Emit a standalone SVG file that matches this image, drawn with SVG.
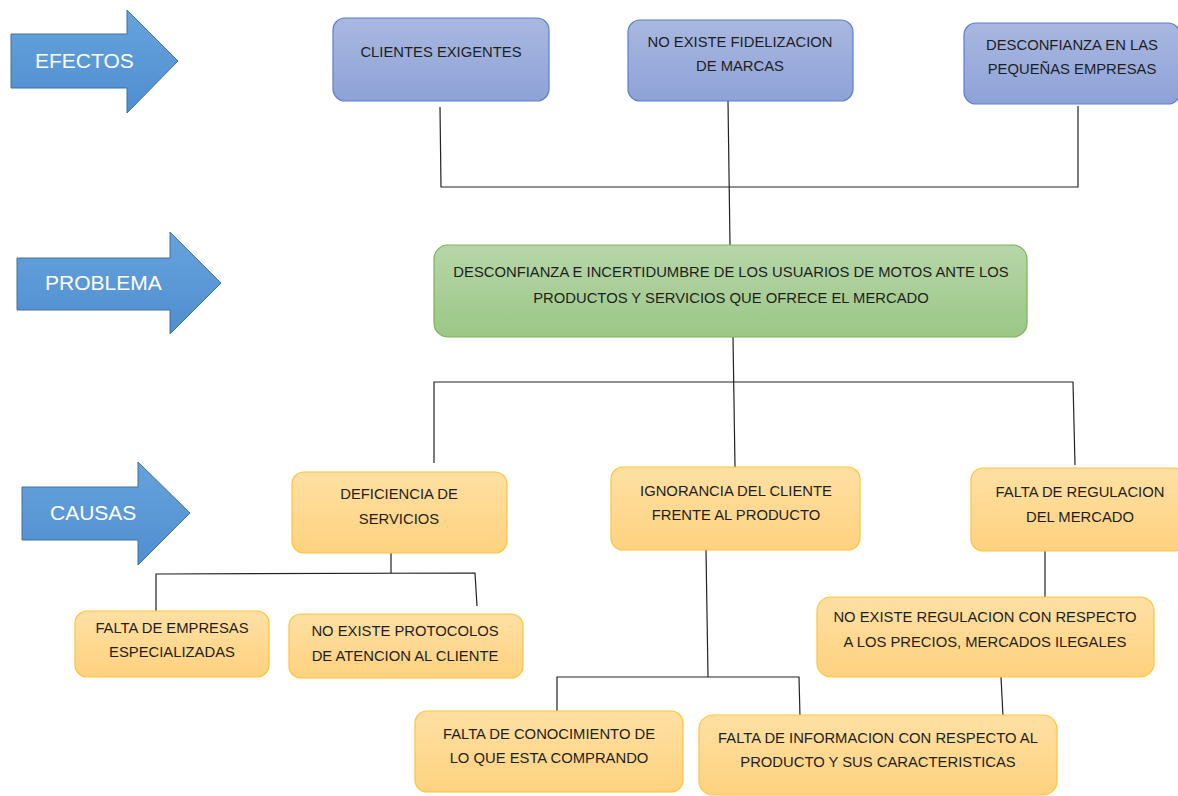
<svg xmlns="http://www.w3.org/2000/svg" width="1178" height="796" viewBox="0 0 1178 796">
<defs>
<linearGradient id="gArrow" x1="0" y1="0" x2="0" y2="1"><stop offset="0" stop-color="#66a3dc"/><stop offset="1" stop-color="#4f8ed0"/></linearGradient>
<linearGradient id="gBlue" x1="0" y1="0" x2="0" y2="1"><stop offset="0" stop-color="#aab8e0"/><stop offset="1" stop-color="#8da2d8"/></linearGradient>
<linearGradient id="gGreen" x1="0" y1="0" x2="0" y2="1"><stop offset="0" stop-color="#b6d6a8"/><stop offset="1" stop-color="#9cc786"/></linearGradient>
<linearGradient id="gOrange" x1="0" y1="0" x2="0" y2="1"><stop offset="0" stop-color="#ffe0a3"/><stop offset="1" stop-color="#fed27f"/></linearGradient>
</defs>
<style>
.arrow{fill:url(#gArrow);stroke:#41719c;stroke-width:1}
.alabel{font-family:"Liberation Sans",Arial,sans-serif;fill:#ffffff;font-size:21px}
.eff{fill:url(#gBlue);stroke:#5b7fcc;stroke-width:1.2}
.prob{fill:url(#gGreen);stroke:#7ab356;stroke-width:1.2}
.cause{fill:url(#gOrange);stroke:#fec43a;stroke-width:1.2}
.t{font-family:"Liberation Sans",Arial,sans-serif;font-size:14.8px;fill:#1e1e1e;text-anchor:middle}
.conn{fill:none;stroke:#222;stroke-width:1.2}
</style>
<rect width="1178" height="796" fill="#ffffff"/>

<g id="arrow-efectos">
<polygon class="arrow" points="11,34 127,34 127,10 178,61 127,113 127,88 11,88"/>
<text class="alabel" x="35" y="68" font-size="19">EFECTOS</text>
</g>
<g id="arrow-problema">
<polygon class="arrow" points="17,258 170,258 170,232 221,283 170,334 170,310 17,310"/>
<text class="alabel" x="45" y="290" font-size="22">PROBLEMA</text>
</g>
<g id="arrow-causas">
<polygon class="arrow" points="22,487 138,487 138,462 190,513 138,565 138,540 22,540"/>
<text class="alabel" x="50" y="520">CAUSAS</text>
</g>

<g id="connectors">
<polyline class="conn" points="440,107 441,187 1078,187 1078,106"/>
<polyline class="conn" points="728,101 730,245"/>
<polyline class="conn" points="733,337 735,467"/>
<polyline class="conn" points="434,463 434,382 1073,382 1075,465"/>
<polyline class="conn" points="391,553 391,573"/>
<polyline class="conn" points="156,611 156,574 475,573 477,606"/>
<polyline class="conn" points="706,550 708,677"/>
<polyline class="conn" points="557,712 557,677 799,677 800,717"/>
<polyline class="conn" points="1045,551 1045,597"/>
<polyline class="conn" points="1001,677 1003,716"/>
</g>

<g id="e1">
<rect class="eff" x="333" y="18" width="216" height="83" rx="12"/>
<text class="t" x="441" y="57">CLIENTES EXIGENTES</text>
</g>
<g id="e2">
<rect class="eff" x="628" y="20" width="225" height="81" rx="12"/>
<text class="t" x="740" y="47">NO EXISTE FIDELIZACION</text>
<text class="t" x="740" y="71">DE MARCAS</text>
</g>
<g id="e3">
<rect class="eff" x="964" y="23" width="216" height="81" rx="12"/>
<text class="t" x="1072" y="50">DESCONFIANZA EN LAS</text>
<text class="t" x="1072" y="74">PEQUEÑAS EMPRESAS</text>
</g>

<g id="problem">
<rect class="prob" x="434" y="245" width="593" height="92" rx="14"/>
<text class="t" x="731" y="277">DESCONFIANZA E INCERTIDUMBRE DE LOS USUARIOS DE MOTOS ANTE LOS</text>
<text class="t" x="731" y="303">PRODUCTOS Y SERVICIOS QUE OFRECE EL MERCADO</text>
</g>

<g id="c1">
<rect class="cause" x="292" y="472" width="215" height="81" rx="12"/>
<text class="t" x="399" y="499">DEFICIENCIA DE</text>
<text class="t" x="399" y="524">SERVICIOS</text>
</g>
<g id="c2">
<rect class="cause" x="611" y="467" width="249" height="83" rx="12"/>
<text class="t" x="736" y="496">IGNORANCIA DEL CLIENTE</text>
<text class="t" x="736" y="520">FRENTE AL PRODUCTO</text>
</g>
<g id="c3">
<rect class="cause" x="971" y="468" width="215" height="83" rx="12"/>
<text class="t" x="1080" y="497">FALTA DE REGULACION</text>
<text class="t" x="1080" y="522">DEL MERCADO</text>
</g>

<g id="c1a">
<rect class="cause" x="75" y="611" width="194" height="66" rx="12"/>
<text class="t" x="172" y="633">FALTA DE EMPRESAS</text>
<text class="t" x="172" y="657">ESPECIALIZADAS</text>
</g>
<g id="c1b">
<rect class="cause" x="289" y="614" width="234" height="64" rx="12"/>
<text class="t" x="405" y="636">NO EXISTE PROTOCOLOS</text>
<text class="t" x="405" y="661">DE ATENCION AL CLIENTE</text>
</g>
<g id="c3a">
<rect class="cause" x="817" y="597" width="337" height="80" rx="14"/>
<text class="t" x="985" y="622">NO EXISTE REGULACION CON RESPECTO</text>
<text class="t" x="985" y="647">A LOS PRECIOS, MERCADOS ILEGALES</text>
</g>
<g id="c2a">
<rect class="cause" x="415" y="711" width="268" height="81" rx="12"/>
<text class="t" x="549" y="739">FALTA DE CONOCIMIENTO DE</text>
<text class="t" x="549" y="763">LO QUE ESTA COMPRANDO</text>
</g>
<g id="c2b">
<rect class="cause" x="699" y="715" width="358" height="80" rx="14"/>
<text class="t" x="878" y="743">FALTA DE INFORMACION CON RESPECTO AL</text>
<text class="t" x="878" y="767">PRODUCTO Y SUS CARACTERISTICAS</text>
</g>
</svg>
